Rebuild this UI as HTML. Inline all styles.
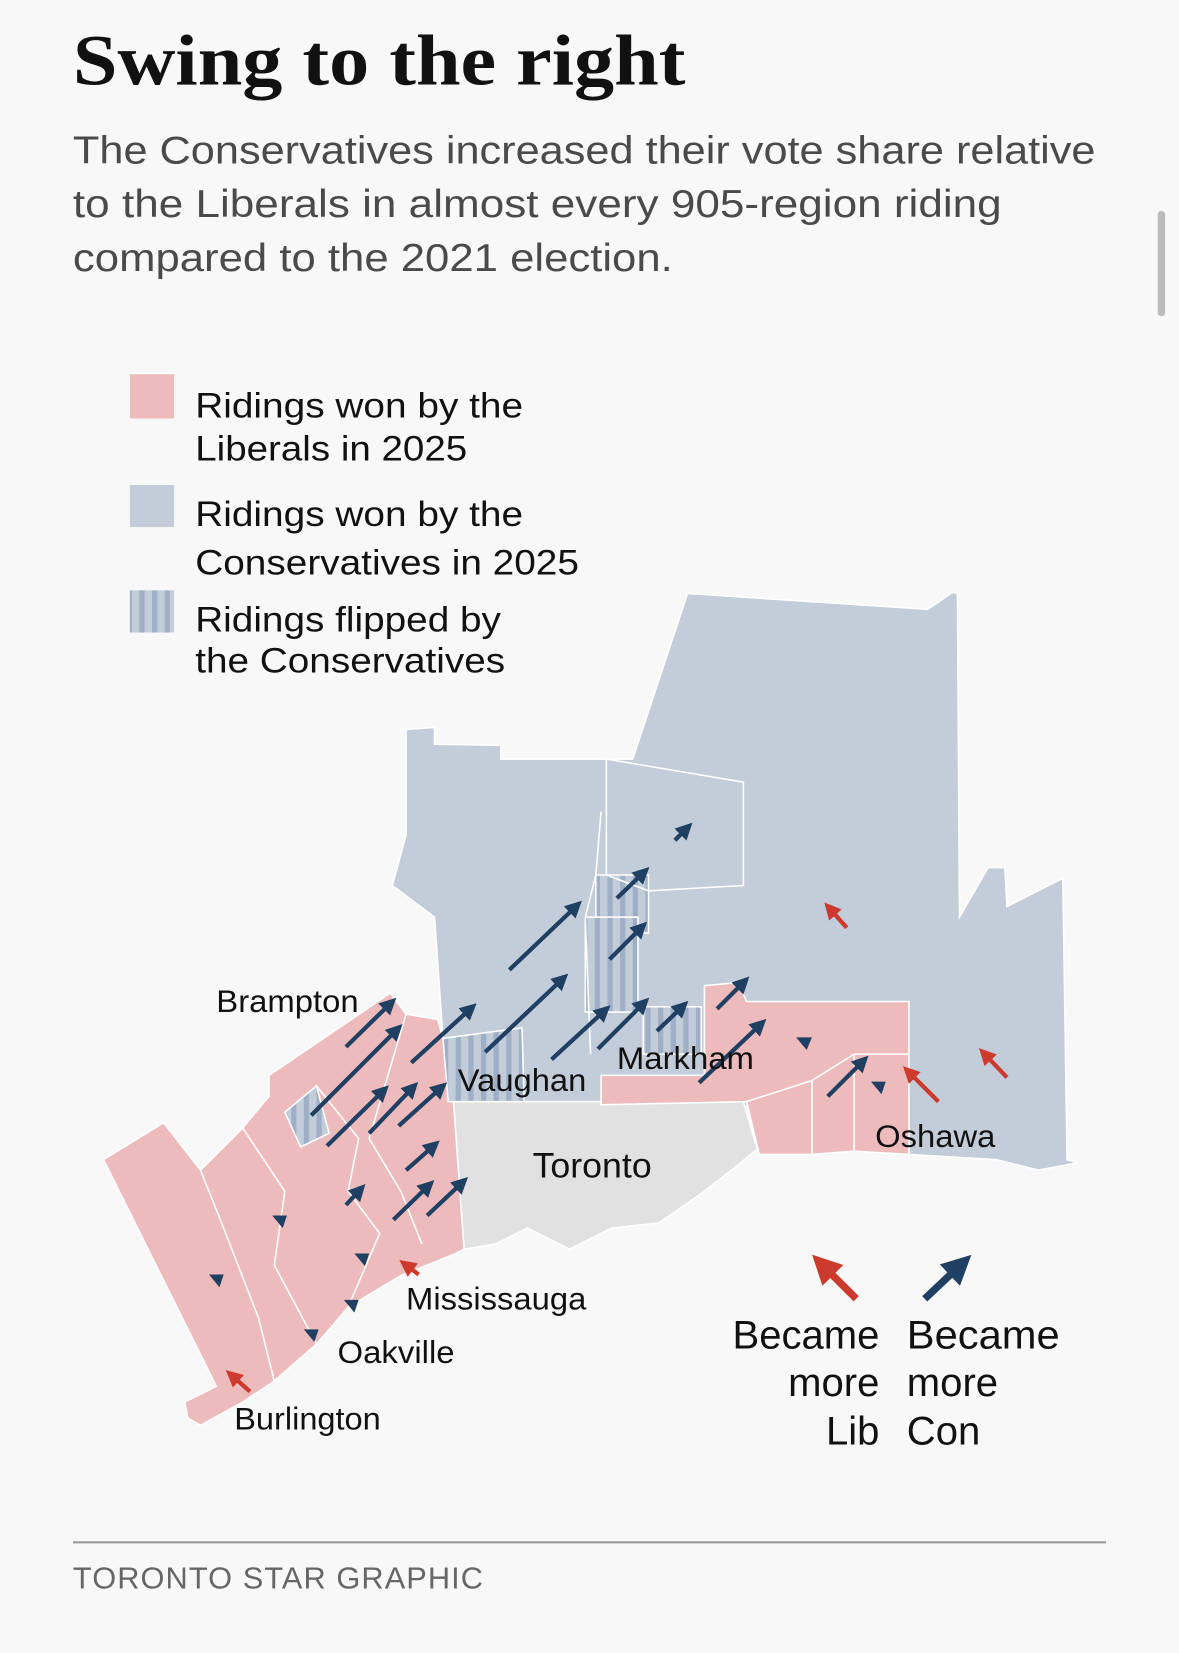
<!DOCTYPE html>
<html><head><meta charset="utf-8"><style>
html,body{margin:0;padding:0;background:#f8f8f8;}
svg{display:block}
</style></head><body>
<svg width="1179" height="1653" viewBox="0 0 1118 1568" xmlns="http://www.w3.org/2000/svg">
<defs>
<pattern id="st" width="12" height="10" patternUnits="userSpaceOnUse">
<rect width="12" height="10" fill="#c3ccd9"/><rect width="5" height="10" fill="#9fb0c6"/>
</pattern>
<marker id="hb" markerWidth="4" markerHeight="4" refX="2" refY="2" orient="auto"><path d="M0,0 L4,2 L0,4 Z" fill="#1f3f63"/></marker>
<marker id="hr" markerWidth="4" markerHeight="4" refX="2" refY="2" orient="auto"><path d="M0,0 L4,2 L0,4 Z" fill="#cc3a2e"/></marker>
</defs>
<rect width="1118" height="1568" fill="#f8f8f8"/>
<rect x="1098" y="200" width="7" height="100" rx="3.5" fill="#bbb"/>
<text x="69" y="80" font-family="Liberation Serif, serif" font-weight="bold" font-size="68" fill="#111" textLength="581" lengthAdjust="spacingAndGlyphs">Swing to the right</text>
<g font-family="Liberation Sans, sans-serif" font-size="37" fill="#4a4a4a">
<text x="69" y="155" textLength="970" lengthAdjust="spacingAndGlyphs">The Conservatives increased their vote share relative</text>
<text x="69" y="206" textLength="881" lengthAdjust="spacingAndGlyphs">to the Liberals in almost every 905-region riding</text>
<text x="69" y="257" textLength="569" lengthAdjust="spacingAndGlyphs">compared to the 2021 election.</text>
</g>
<rect x="123" y="355" width="42" height="42" fill="#eebbbd"/>
<rect x="123" y="460" width="42" height="40" fill="#c3ccd9"/>
<rect x="123" y="560" width="42" height="40" fill="url(#st)"/>
<g font-family="Liberation Sans, sans-serif" font-size="33" fill="#111">
<text x="185" y="396" textLength="311" lengthAdjust="spacingAndGlyphs">Ridings won by the</text><text x="185" y="437" textLength="258" lengthAdjust="spacingAndGlyphs">Liberals in 2025</text>
<text x="185" y="499" textLength="311" lengthAdjust="spacingAndGlyphs">Ridings won by the</text><text x="185" y="545" textLength="364" lengthAdjust="spacingAndGlyphs">Conservatives in 2025</text>
<text x="185" y="599" textLength="290" lengthAdjust="spacingAndGlyphs">Ridings flipped by</text><text x="185" y="638" textLength="294" lengthAdjust="spacingAndGlyphs">the Conservatives</text>
</g>
<g stroke="#fff" stroke-width="1.5">
<path d="M385,692 L412,690 L412,706 L475,707 L475,720 L600,720 L652,563 L880,578 L903,562 L908,563 L910,870 L937,823 L953,823 L955,860 L1008,833 L1012,1100 L1022,1103 L985,1110 L945,1100 L862,1095 L862,1040 L720,1050 L570,1045 L420,1045 L410,990 L420,985 L412,870 L372,840 L385,792 Z" fill="#c3ccd9"/>
<path d="M430,1045 L705,1045 L718,1090 L700,1105 L668,1130 L625,1160 L580,1165 L540,1185 L500,1165 L470,1180 L440,1185 Z" fill="#e1e1e1"/>
<path d="M98,1100 L155,1065 L190,1110 L230,1070 L255,1040 L255,1020 L370,942 L385,962 L415,967 L420,985 L430,1045 L440,1185 L430,1190 L380,1210 L330,1240 L300,1275 L260,1310 L230,1330 L190,1352 L178,1345 L175,1330 L205,1315 Z" fill="#eebbbd"/>
<path d="M270,1055 L300,1030 L312,1075 L285,1088 Z" fill="url(#st)"/>
<path d="M420,985 L495,975 L497,1045 L425,1045 Z" fill="url(#st)"/>
<path d="M570,1020 L668,1020 L668,935 L700,932 L708,950 L862,950 L862,1095 L810,1092 L770,1095 L720,1095 L708,1045 L570,1048 Z" fill="#eebbbd"/>
<path d="M565,830 L615,830 L615,885 L565,885 Z" fill="url(#st)"/>
<path d="M555,870 L605,870 L605,960 L555,960 Z" fill="url(#st)"/>
<path d="M610,955 L665,955 L665,1000 L610,1000 Z" fill="url(#st)"/>
<path d="M575,720 L705,742 L705,840 L615,845 L575,830 Z" fill="none"/>
<path d="M560,1000 L555,870 L565,830 L570,770" fill="none"/>
<path d="M300,1030 L340,1080 L330,1130 L360,1170 L330,1240 M230,1070 L270,1130 L260,1200 L300,1275 M190,1110 L210,1160 L245,1250 L260,1310 M385,962 L350,1080 L380,1130 L400,1180" fill="none"/>
<path d="M708,1045 L770,1025 L810,1000 L862,1000 M770,1025 L770,1095 M810,1000 L810,1092" fill="none"/>
</g>
<g stroke="#1f3f63" stroke-width="4" marker-end="url(#hb)" fill="none">
<line x1="483" y1="920" x2="546" y2="860"/><line x1="460" y1="998" x2="533" y2="929"/>
<line x1="523" y1="1005" x2="573" y2="959"/><line x1="567" y1="995" x2="610" y2="952"/>
<line x1="390" y1="1008" x2="446" y2="957"/><line x1="328" y1="993" x2="370" y2="952"/>
<line x1="295" y1="1058" x2="376" y2="977"/><line x1="310" y1="1087" x2="363" y2="1035"/>
<line x1="350" y1="1075" x2="391" y2="1032"/><line x1="378" y1="1068" x2="418" y2="1032"/>
<line x1="663" y1="1027" x2="721" y2="972"/><line x1="623" y1="978" x2="647" y2="955"/>
<line x1="578" y1="910" x2="608" y2="880"/><line x1="585" y1="852" x2="610" y2="828"/>
<line x1="680" y1="957" x2="705" y2="932"/><line x1="785" y1="1040" x2="818" y2="1007"/>
<line x1="385" y1="1110" x2="411" y2="1087"/><line x1="373" y1="1157" x2="406" y2="1125"/>
<line x1="405" y1="1153" x2="438" y2="1122"/><line x1="328" y1="1143" x2="341" y2="1129"/>
<line x1="640" y1="797" x2="651" y2="786"/>
<line x1="877" y1="1232" x2="911" y2="1200" stroke-width="7"/>
</g>
<g fill="#1f3f63">
<path d="M755,984 L770,984 L765,996 Z"/><path d="M826,1026 L840,1026 L836,1038 Z"/>
<path d="M258,1153 L272,1153 L268,1165 Z"/><path d="M336,1189 L350,1189 L346,1201 Z"/>
<path d="M326,1233 L340,1233 L336,1245 Z"/><path d="M288,1261 L302,1261 L298,1273 Z"/>
<path d="M198,1209 L212,1209 L208,1221 Z"/>
</g>
<g stroke="#cc3a2e" stroke-width="4" marker-end="url(#hr)" fill="none">
<line x1="803" y1="880" x2="787" y2="862"/><line x1="890" y1="1045" x2="862" y2="1017"/>
<line x1="955" y1="1022" x2="934" y2="1000"/><line x1="397" y1="1209" x2="385" y2="1200"/>
<line x1="237" y1="1320" x2="220" y2="1305"/>
<line x1="812" y1="1232" x2="780" y2="1200" stroke-width="7"/>
</g>
<g font-family="Liberation Sans, sans-serif" font-size="30" fill="#111">
<text x="205" y="960" textLength="135" lengthAdjust="spacingAndGlyphs">Brampton</text><text x="434" y="1035" textLength="122" lengthAdjust="spacingAndGlyphs">Vaughan</text>
<text x="585" y="1014" textLength="130" lengthAdjust="spacingAndGlyphs">Markham</text><text x="830" y="1088" textLength="114" lengthAdjust="spacingAndGlyphs">Oshawa</text>
<text x="385" y="1242" textLength="171" lengthAdjust="spacingAndGlyphs">Mississauga</text><text x="320" y="1293" textLength="111" lengthAdjust="spacingAndGlyphs">Oakville</text>
<text x="222" y="1356" textLength="139" lengthAdjust="spacingAndGlyphs">Burlington</text>
<text x="505" y="1117" font-size="33" textLength="113" lengthAdjust="spacingAndGlyphs">Toronto</text>
</g>
<g font-family="Liberation Sans, sans-serif" font-size="38" fill="#111">
<text x="834" y="1279" text-anchor="end">Became</text><text x="834" y="1324" text-anchor="end">more</text><text x="834" y="1370" text-anchor="end">Lib</text>
<text x="860" y="1279" textLength="145" lengthAdjust="spacingAndGlyphs">Became</text><text x="860" y="1324">more</text><text x="860" y="1370">Con</text>
</g>
<line x1="69" y1="1463" x2="1049" y2="1463" stroke="#999" stroke-width="2"/>
<text x="69" y="1507" font-family="Liberation Sans, sans-serif" font-size="29" fill="#666" letter-spacing="1" textLength="390" lengthAdjust="spacingAndGlyphs">TORONTO STAR GRAPHIC</text>
</svg>
</body></html>
